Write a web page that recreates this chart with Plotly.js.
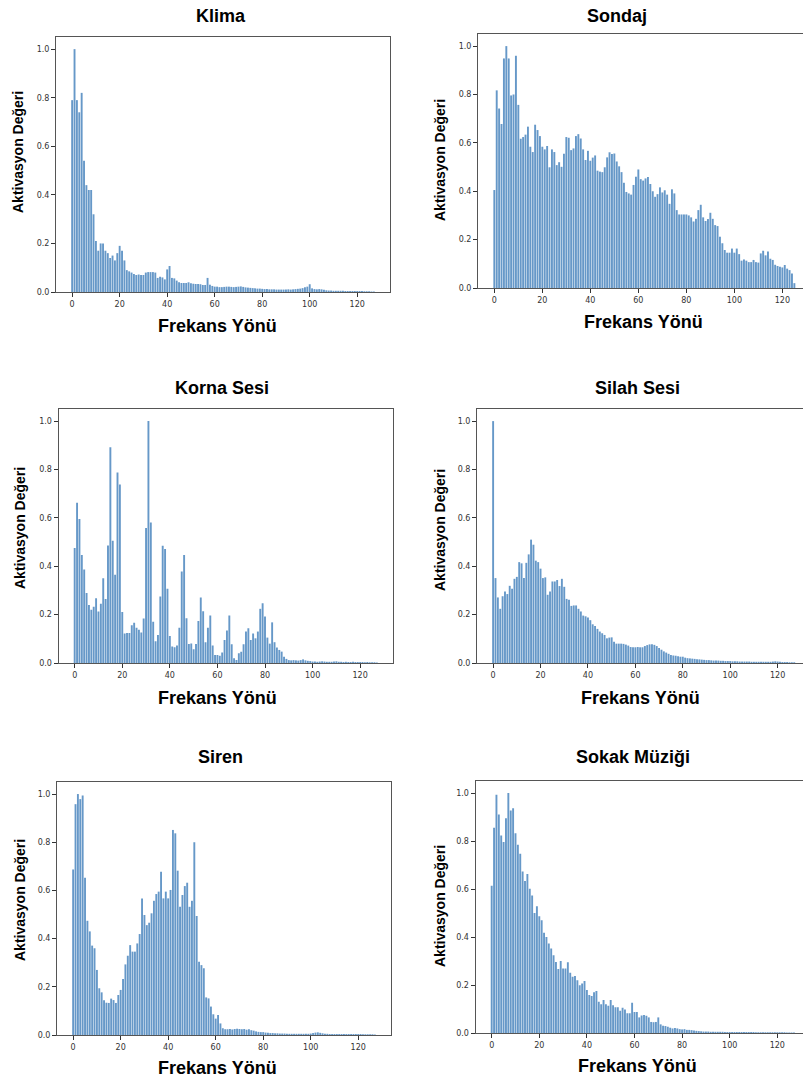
<!DOCTYPE html>
<html>
<head>
<meta charset="utf-8">
<script src="https://cdn.plot.ly/plotly-3.0.1.min.js"></script>
<style>html,body{margin:0;padding:0;background:#fff;}#chart{width:803px;height:1084px;}</style>
</head>
<body>
<div id="chart"></div>
<script>
// Titles
const titles = ["Klima", "Sondaj", "Korna Sesi", "Silah Sesi", "Siren", "Sokak Müziği"];
const xLabel = "Frekans Yönü";
const yLabel = "Aktivasyon Değeri";
const xTicks = [0, 20, 40, 60, 80, 100, 120];
const yTicks = [0.0, 0.2, 0.4, 0.6, 0.8, 1.0];

// Frequency bins 0..127
const freq = Array.from({length: 128}, (_, i) => i);

const klima = [0.79,1.0,0.79,0.74,0.82,0.54,0.44,0.42,0.42,0.32,
0.21,0.17,0.20,0.20,0.17,0.16,0.14,0.15,0.13,0.16,
0.19,0.17,0.13,0.09,0.085,0.08,0.074,0.07,0.072,0.07,
0.07,0.08,0.082,0.082,0.082,0.08,0.058,0.063,0.06,0.052,
0.093,0.107,0.058,0.056,0.047,0.04,0.037,0.037,0.037,0.04,
0.036,0.034,0.033,0.033,0.032,0.029,0.029,0.058,0.03,0.025,
0.022,0.022,0.02,0.02,0.021,0.022,0.022,0.021,0.02,0.021,
0.022,0.023,0.021,0.019,0.018,0.017,0.016,0.015,0.014,0.014,
0.013,0.012,0.012,0.011,0.011,0.011,0.01,0.01,0.01,0.01,
0.01,0.011,0.01,0.011,0.012,0.013,0.014,0.016,0.02,0.022,
0.032,0.015,0.012,0.011,0.012,0.011,0.009,0.007,0.006,0.006,
0.005,0.005,0.005,0.005,0.005,0.004,0.004,0.004,0.004,0.004,
0.004,0.004,0.004,0.003,0.003,0.003,0.002,0.002];

const sondaj = [0.405,0.817,0.742,0.678,0.949,1.0,0.949,0.796,0.80,0.96,
0.757,0.617,0.624,0.634,0.667,0.584,0.562,0.675,0.653,0.628,
0.584,0.573,0.587,0.499,0.573,0.562,0.508,0.52,0.501,0.555,
0.624,0.621,0.57,0.577,0.628,0.636,0.618,0.573,0.529,0.567,
0.526,0.539,0.548,0.485,0.481,0.479,0.499,0.54,0.561,0.554,
0.556,0.523,0.503,0.479,0.435,0.397,0.391,0.386,0.426,0.46,
0.49,0.45,0.444,0.453,0.459,0.43,0.40,0.377,0.388,0.416,
0.395,0.404,0.386,0.348,0.408,0.391,0.322,0.304,0.304,0.304,
0.304,0.30,0.292,0.275,0.286,0.322,0.344,0.292,0.277,0.285,
0.311,0.286,0.26,0.256,0.212,0.185,0.157,0.146,0.146,0.163,
0.146,0.163,0.14,0.113,0.118,0.113,0.107,0.107,0.116,0.107,
0.105,0.143,0.154,0.135,0.151,0.121,0.116,0.096,0.091,0.088,
0.085,0.095,0.08,0.074,0.06,0.02,0.0,0.0];

const korna = [0.475,0.662,0.595,0.446,0.387,0.289,0.24,0.22,0.233,0.268,
0.213,0.245,0.35,0.265,0.486,0.892,0.505,0.365,0.787,0.738,
0.211,0.122,0.124,0.124,0.156,0.166,0.146,0.137,0.126,0.184,
0.558,1.0,0.581,0.171,0.09,0.116,0.275,0.485,0.471,0.307,
0.112,0.068,0.065,0.072,0.146,0.378,0.446,0.185,0.079,0.081,
0.057,0.079,0.174,0.271,0.214,0.086,0.146,0.196,0.072,0.033,
0.033,0.03,0.043,0.095,0.134,0.196,0.077,0.02,0.012,0.04,
0.047,0.077,0.13,0.144,0.095,0.122,0.102,0.13,0.224,0.247,
0.192,0.105,0.08,0.168,0.086,0.064,0.054,0.047,0.026,0.017,
0.012,0.011,0.012,0.011,0.01,0.012,0.015,0.011,0.009,0.008,
0.006,0.006,0.005,0.006,0.007,0.006,0.005,0.005,0.005,0.006,
0.007,0.005,0.005,0.004,0.005,0.004,0.004,0.005,0.004,0.004,
0.004,0.004,0.003,0.004,0.003,0.003,0.003,0.002];

const silah = [1.0,0.351,0.271,0.224,0.276,0.296,0.285,0.319,0.307,0.348,
0.356,0.417,0.412,0.351,0.414,0.449,0.51,0.489,0.423,0.417,
0.39,0.351,0.354,0.282,0.296,0.337,0.337,0.343,0.318,0.348,
0.315,0.265,0.261,0.236,0.238,0.238,0.224,0.213,0.196,0.193,
0.188,0.177,0.16,0.153,0.141,0.13,0.123,0.116,0.102,0.105,
0.106,0.088,0.08,0.08,0.08,0.079,0.076,0.072,0.066,0.065,
0.065,0.066,0.065,0.065,0.07,0.074,0.077,0.077,0.075,0.07,
0.062,0.055,0.048,0.043,0.038,0.033,0.031,0.03,0.028,0.026,
0.026,0.022,0.02,0.019,0.018,0.017,0.016,0.015,0.014,0.013,
0.012,0.012,0.011,0.01,0.01,0.01,0.009,0.009,0.008,0.008,
0.008,0.007,0.007,0.007,0.006,0.006,0.006,0.006,0.006,0.005,
0.005,0.005,0.005,0.005,0.005,0.005,0.005,0.005,0.006,0.007,
0.006,0.005,0.004,0.004,0.004,0.003,0.003,0.003];

const siren = [0.687,0.958,1.0,0.979,0.994,0.653,0.474,0.43,0.371,0.36,
0.27,0.194,0.177,0.144,0.134,0.133,0.151,0.145,0.133,0.166,
0.187,0.232,0.293,0.329,0.373,0.346,0.346,0.38,0.419,0.567,
0.498,0.456,0.466,0.505,0.557,0.585,0.595,0.678,0.567,0.595,
0.567,0.602,0.851,0.837,0.682,0.532,0.581,0.618,0.632,0.532,
0.557,0.80,0.494,0.304,0.29,0.277,0.156,0.152,0.118,0.086,
0.068,0.083,0.048,0.028,0.024,0.024,0.025,0.023,0.025,0.026,
0.025,0.024,0.025,0.022,0.024,0.02,0.018,0.015,0.013,0.012,
0.012,0.01,0.009,0.008,0.008,0.007,0.007,0.006,0.006,0.006,
0.005,0.005,0.005,0.005,0.005,0.005,0.005,0.005,0.005,0.005,
0.006,0.008,0.01,0.011,0.009,0.007,0.005,0.005,0.004,0.004,
0.004,0.004,0.004,0.004,0.004,0.004,0.004,0.004,0.004,0.004,
0.004,0.004,0.003,0.003,0.003,0.003,0.003,0.002];

const sokak = [0.614,0.855,0.993,0.91,0.823,0.796,0.895,1.0,0.927,0.936,
0.832,0.784,0.747,0.673,0.633,0.663,0.601,0.573,0.50,0.528,
0.486,0.47,0.418,0.40,0.373,0.352,0.324,0.296,0.267,0.30,
0.269,0.269,0.295,0.251,0.234,0.237,0.22,0.199,0.206,0.217,
0.179,0.158,0.154,0.17,0.175,0.13,0.12,0.137,0.12,0.114,
0.137,0.116,0.107,0.107,0.093,0.105,0.098,0.082,0.082,0.126,
0.087,0.087,0.065,0.073,0.075,0.072,0.065,0.046,0.045,0.046,
0.065,0.036,0.03,0.029,0.026,0.022,0.019,0.021,0.019,0.016,
0.015,0.016,0.013,0.013,0.012,0.01,0.009,0.008,0.007,0.006,
0.006,0.006,0.005,0.005,0.005,0.005,0.005,0.005,0.004,0.004,
0.004,0.004,0.004,0.004,0.004,0.004,0.004,0.004,0.004,0.004,
0.004,0.003,0.003,0.003,0.003,0.003,0.003,0.003,0.003,0.003,
0.003,0.003,0.003,0.003,0.002,0.002,0.002,0.002];

const seriesList = [klima, sondaj, korna, silah, siren, sokak];

const W = 803, H = 1084;
// pixel boxes [x0, x1, yTop, yBottom] and x range end
const boxes = [
  {x0: 56,   x1: 390, yt: 37,  yb: 292, xr: 133.8, right: false},
  {x0: 478,  x1: 803, yt: 34,  yb: 288, xr: 128.6, right: true},
  {x0: 58.5, x1: 393, yt: 409, yb: 663, xr: 133.8, right: false},
  {x0: 477,  x1: 803, yt: 409, yb: 663, xr: 130.7, right: true},
  {x0: 57,   x1: 391, yt: 782, yb: 1035, xr: 133.8, right: false},
  {x0: 475.5,x1: 803, yt: 781, yb: 1033, xr: 130.8, right: true}
];
// text positions (px): title, x label, y label
const titlePos = [[221,16],[617,16],[222,388],[637,388],[220,757],[633,757]];
const xlabPos  = [[218,326],[643,322],[217,698],[640,698],[218,1068],[637,1066]];
const ylabPos  = [[18,152],[440,160],[20,528],[440,530],[20,900],[440,906]];

const traces = [];
const layout = {
  width: W, height: H,
  margin: {l: 0, r: 0, t: 0, b: 0},
  paper_bgcolor: '#fff', plot_bgcolor: '#fff',
  showlegend: false,
  bargap: 0.2,
  annotations: []
};

const tickFont = {family: 'DejaVu Sans, sans-serif', size: 8, color: '#333'};
const boldFont = 'Liberation Sans, Arial, sans-serif';

seriesList.forEach((vals, i) => {
  const n = i + 1;
  const xa = 'x' + (n === 1 ? '' : n), ya = 'y' + (n === 1 ? '' : n);
  const xk = 'xaxis' + (n === 1 ? '' : n), yk = 'yaxis' + (n === 1 ? '' : n);
  const b = boxes[i];
  traces.push({
    type: 'bar', x: freq, y: vals, xaxis: xa, yaxis: ya,
    marker: {color: '#6698c8', line: {width: 0}},
    hoverinfo: 'x+y'
  });
  layout[xk] = {
    domain: [b.x0 / W, Math.min(1, b.x1 / W)],
    anchor: ya, range: [-6.8, b.xr],
    tickvals: xTicks, ticktext: xTicks.map(String),
    ticks: 'outside', ticklen: 4, tickcolor: '#333', tickwidth: 1,
    tickfont: tickFont, showgrid: false, zeroline: false,
    showline: true, linecolor: '#555', linewidth: 1, mirror: true
  };
  layout[yk] = {
    domain: [1 - b.yb / H, 1 - b.yt / H],
    anchor: xa, range: [0, 1.05],
    tickvals: yTicks, ticktext: yTicks.map(v => v.toFixed(1)),
    ticks: 'outside', ticklen: 4, tickcolor: '#333', tickwidth: 1,
    tickfont: tickFont, showgrid: false, zeroline: false,
    showline: true, linecolor: '#555', linewidth: 1, mirror: !b.right
  };
  layout.annotations.push({
    xref: 'paper', yref: 'paper', x: titlePos[i][0] / W, y: 1 - titlePos[i][1] / H,
    xanchor: 'center', yanchor: 'middle', showarrow: false,
    text: '<b>' + titles[i] + '</b>', font: {family: boldFont, size: 18, color: '#000'}
  });
  layout.annotations.push({
    xref: 'paper', yref: 'paper', x: xlabPos[i][0] / W, y: 1 - xlabPos[i][1] / H,
    xanchor: 'center', yanchor: 'middle', showarrow: false,
    text: '<b>' + xLabel + '</b>', font: {family: boldFont, size: 18, color: '#000'}
  });
  layout.annotations.push({
    xref: 'paper', yref: 'paper', x: ylabPos[i][0] / W, y: 1 - ylabPos[i][1] / H,
    xanchor: 'center', yanchor: 'middle', showarrow: false, textangle: -90,
    text: '<b>' + yLabel + '</b>', font: {family: boldFont, size: 14, color: '#000'}
  });
});

Plotly.newPlot('chart', traces, layout, {displayModeBar: false, staticPlot: true});
</script>
</body>
</html>
